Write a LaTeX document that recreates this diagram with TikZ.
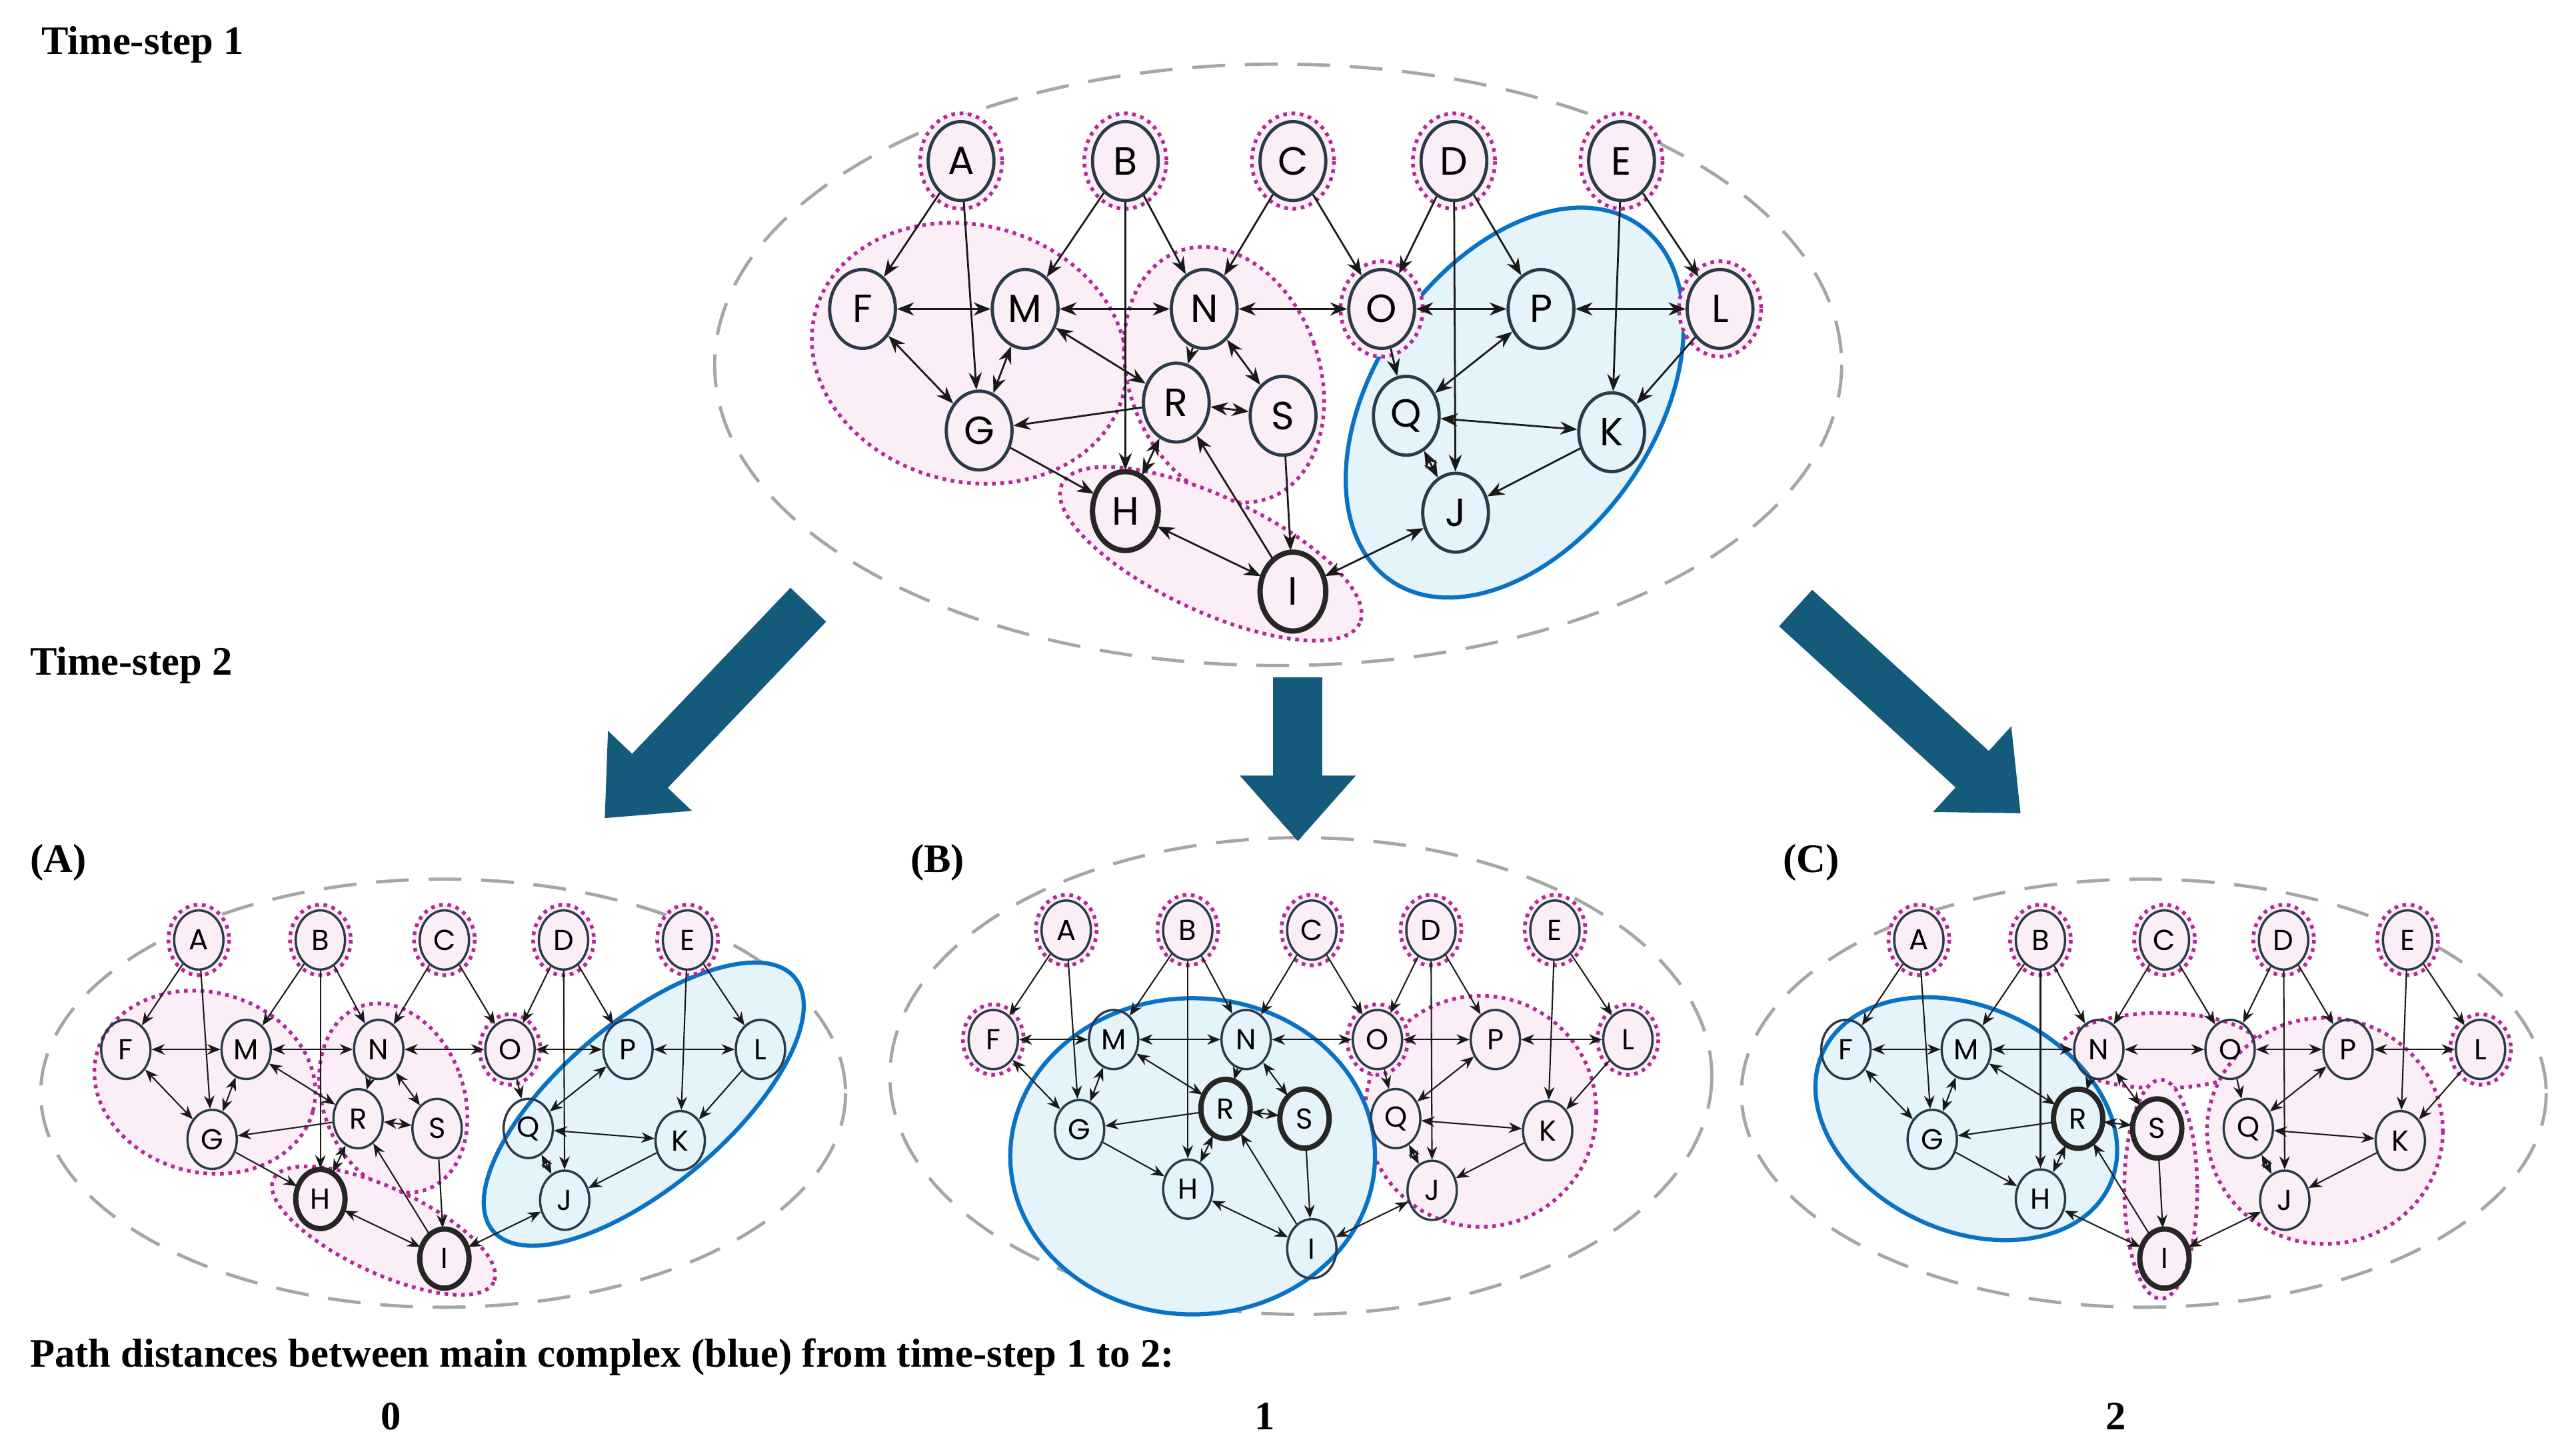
\documentclass[tikz,border=0pt]{standalone}
\usepackage{fontspec}
\setmainfont{Liberation Serif}
\newfontfamily\vtxfont{Poppins}
\usetikzlibrary{shapes.geometric,arrows.meta,backgrounds,positioning}
\definecolor{vline}{HTML}{2B3A4A}
\definecolor{pinkfill}{HTML}{FCEEF7}
\definecolor{magline}{HTML}{B5289A}
\definecolor{bluefill}{HTML}{E4F4FA}
\definecolor{blueline}{HTML}{0A72C4}
\definecolor{greyline}{HTML}{A6A6A6}
\definecolor{teal}{HTML}{145A7A}

\tikzset{bignode/.style={shape=ellipse, draw=vline, line width=1.4pt,
           minimum width=10mm, minimum height=12mm, inner sep=0pt,
           font=\vtxfont\fontsize{17}{17}\selectfont},
         smallnode/.style={shape=ellipse, draw=vline, line width=1pt,
           minimum width=7.5mm, minimum height=9mm, inner sep=0pt,
           font=\vtxfont\fontsize{12.5}{12.5}\selectfont},
         ring/.style={draw=magline, fill=pinkfill, line width=1.6pt, dotted},
         group/.style={draw=magline, fill=pinkfill, line width=1.6pt, dotted},
         main/.style={draw=blueline, fill=bluefill, line width=1.8pt},
         frame/.style={draw=greyline, line width=1.4pt, dash pattern=on 5mm off 3mm},
         bigarrow/.style={draw=teal, line width=7.5mm,
           -{Triangle[length=10mm,width=17mm]}},
         label/.style={font=\fontsize{17.5}{20}\selectfont\bfseries, inner sep=0pt}}

% prefix, x, y, scale, node/edge style, background, bold nodes
\newcommand\drawnet[7]{%
\begin{scope}[shift={(#2,#3)}, scale=#4, #5]
 \foreach \n/\x/\y in {A/0/0, B/100/0, C/202/0, D/300/0, E/402/0,
   F/-60/90, M/39/90, N/148/90, O/256/90, P/353/90, L/462/90,
   G/11/164, R/131/147, S/196/155, Q/271/155, K/396/165,
   H/100/213, J/301/214, I/202/262}
   \node[vtx] (#1\n) at (\x,\y) {\n};
 \foreach \n in {#7}
   \node[vtx, line width=2.3pt, draw=black!85] (#1\n b) at (#1\n) {};
 \foreach \a/\b in {A/F, A/G, B/M, B/H, B/N, C/N, C/O, D/O, D/P, D/J,
   E/K, E/L, N/R, R/G, G/H, S/I, I/R, O/Q, K/J, L/K}
   \draw[edge,->] (#1\a) -- (#1\b);
 \foreach \a/\b in {F/M, F/G, M/N, N/O, O/P, P/L, M/G, M/R, N/S, R/S,
   R/H, H/I, I/J, P/Q, Q/K, Q/J}
   \draw[edge,<->] (#1\a) -- (#1\b);
 \begin{pgfonlayer}{background}
 #6
 \end{pgfonlayer}
\end{scope}}

\begin{document}
\begin{tikzpicture}[x=0.25mm, y=-0.25mm]
\useasboundingbox (0,0) rectangle (1568,881);

% time-step 1
\drawnet{t}{585}{98}{1}{vtx/.style=bignode,
   edge/.style={draw=black!90, line width=0.8pt, >={Stealth[length=2.6mm,width=2mm]}}}{
 \draw[frame] (193,124) ellipse [x radius=343, y radius=183];
 \draw[group] (5,117) ellipse [x radius=97, y radius=78, rotate=-15];
 \draw[group] (160,130) ellipse [x radius=58, y radius=80, rotate=20];
 \draw[group] (152,239) ellipse [x radius=100, y radius=35, rotate=-25];
 \draw[main] (337,147) ellipse [x radius=85, y radius=132, rotate=-35];
 \foreach \n in {A,B,C,D,E,O,L} \draw[ring] (t\n) ellipse [x radius=25, y radius=29];
}{H,I}

% (A)
\drawnet{a}{121}{572}{0.74}{vtx/.style=smallnode,
   edge/.style={draw=black!90, line width=0.6pt, >={Stealth[length=2mm,width=1.6mm]}}}{
 \draw[frame] (201,126) ellipse [x radius=331, y radius=176];
 \draw[group] (5,117) ellipse [x radius=92, y radius=74, rotate=-15];
 \draw[group] (160,130) ellipse [x radius=58, y radius=80, rotate=20];
 \draw[group] (152,239) ellipse [x radius=100, y radius=35, rotate=-25];
 \draw[main] (366,135) ellipse [x radius=162, y radius=68, rotate=40];
 \foreach \n in {A,B,C,D,E,O} \draw[ring] (a\n) ellipse [x radius=25, y radius=29];
}{H,I}

% (B)
\drawnet{b}{649}{566}{0.74}{vtx/.style=smallnode,
   edge/.style={draw=black!90, line width=0.6pt, >={Stealth[length=2mm,width=1.6mm]}}}{
 \draw[frame] (193,120) ellipse [x radius=338, y radius=196];
 \draw[group] (341,149) ellipse [x radius=95, y radius=95];
 \draw[main] (104,186) ellipse [x radius=150, y radius=130];
 \foreach \n in {A,B,C,D,E,F,O,L} \draw[ring] (b\n) ellipse [x radius=25, y radius=29];
}{R,S}

% (C)
\drawnet{c}{1168}{572}{0.74}{vtx/.style=smallnode,
   edge/.style={draw=black!90, line width=0.6pt, >={Stealth[length=2mm,width=1.6mm]}}}{
 \draw[frame] (185,126) ellipse [x radius=331, y radius=176];
 \draw[group] (199,91) ellipse [x radius=83, y radius=31];
 \draw[group] (199,205) ellipse [x radius=30, y radius=90];
 \draw[group] (334,157) ellipse [x radius=97, y radius=93];
 \draw[main] (39,147) ellipse [x radius=130, y radius=92, rotate=-25];
 \foreach \n in {A,B,C,D,E,L} \draw[ring] (c\n) ellipse [x radius=25, y radius=29];
}{R,S,I}

% big arrows
\coordinate (la1) at (492,368); \coordinate (la2) at (368,498);
\coordinate (ma1) at (790,412); \coordinate (ma2) at (790,512);
\coordinate (ra1) at (1093,370); \coordinate (ra2) at (1230,495);
\draw[bigarrow] (la1) -- (la2);
\draw[bigarrow] (ma1) -- (ma2);
\draw[bigarrow] (ra1) -- (ra2);

\node[label, anchor=west] (ts1) at (25,27) {Time-step 1};
\node[label, anchor=west] (ts2) at (18,405) {Time-step 2};
\node[label, anchor=west] (pa) at (18,525) {(A)};
\node[label, anchor=west] (pb) at (554,525) {(B)};
\node[label, anchor=west] (pc) at (1085,525) {(C)};
\node[label, anchor=west] (dist) at (18,826) {Path distances between main complex (blue) from time-step 1 to 2:};
\node[label] (d0) at (238,862) {0};
\node[label] (d1) at (770,862) {1};
\node[label] (d2) at (1288,862) {2};
\end{tikzpicture}
\end{document}
